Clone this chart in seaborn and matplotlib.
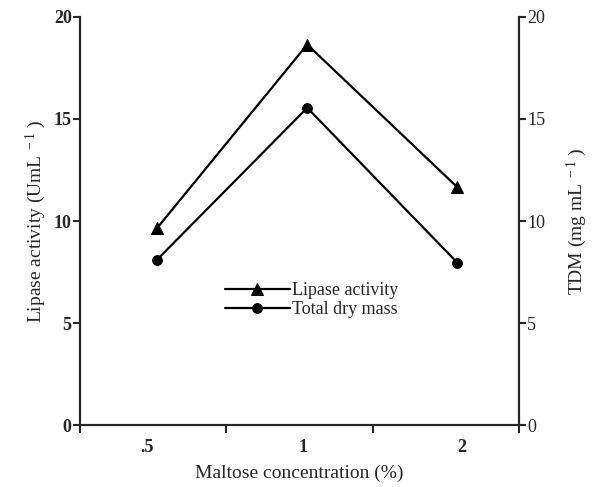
import matplotlib
matplotlib.use("Agg")
import matplotlib.pyplot as plt
import seaborn as sns
import pandas as pd

concentrations = [".5", "1", "2"]
lipase_activity = [9.65, 18.65, 11.65]
total_dry_mass = [8.1, 15.55, 7.95]

sns.set_style("ticks")
plt.rcParams['font.family'] = ['Liberation Serif', 'DejaVu Serif']
plt.rcParams['mathtext.fontset'] = 'custom'
plt.rcParams['mathtext.rm'] = 'Liberation Serif'
plt.rcParams['mathtext.it'] = 'Liberation Serif'

pos = list(range(len(concentrations)))
df = pd.DataFrame({"pos": pos, "lipase": lipase_activity, "tdm": total_dry_mass})

fig = plt.figure(figsize=(5.98, 4.87), dpi=100)
ax = fig.add_axes([80/598, 1-425/487, (519-80)/598, (425-17)/487])
ax2 = ax.twinx()

sns.lineplot(data=df, x="pos", y="lipase", ax=ax, color="black", marker="^",
             markersize=8, linewidth=1.6, markeredgecolor="black", label="Lipase activity", legend=False)
sns.lineplot(data=df, x="pos", y="tdm", ax=ax2, color="black", marker="o",
             markersize=7, linewidth=1.6, markeredgecolor="black", label="Total dry mass", legend=False)

xl = (-0.513, 2.41)
for a in (ax, ax2):
    a.set_xlim(*xl)
    a.set_ylim(0, 20)
    a.set_yticks([0, 5, 10, 15, 20])

# x ticks: labels at data positions, tick marks at bin edges
ax.set_xticks([-0.07, 0.97, 2.03])
ax.set_xticklabels(concentrations)
ax.tick_params(axis="x", length=0, pad=10, labelsize=13)
ax.set_xticks([-0.513, 0.46, 1.44, 2.41], minor=True)
ax.tick_params(axis="x", which="minor", length=6, width=1.5, direction="out")

ax.tick_params(axis="y", length=5, width=1.5, labelsize=13, pad=1)
ax2.tick_params(axis="y", length=5, width=1.5, labelsize=13, pad=1)
for lbl in ax.get_yticklabels() + ax.get_xticklabels():
    lbl.set_fontweight("bold")

for s in ["top"]:
    ax.spines[s].set_visible(False)
    ax2.spines[s].set_visible(False)
for a in (ax, ax2):
    for s in ["left", "right", "bottom"]:
        a.spines[s].set_linewidth(1.5)

ax.set_xlabel("Maltose concentration (%)", fontsize=14, labelpad=6)
ax.set_ylabel("Lipase activity (UmL$^{\\,\\,-1}$ )", fontsize=14, labelpad=4)
ax2.set_ylabel("TDM (mg mL$^{\\,\\,-1}$ )", fontsize=14, labelpad=14)

h1, l1 = ax.get_legend_handles_labels()
h2, l2 = ax2.get_legend_handles_labels()
leg = ax2.legend(h1 + h2, l1 + l2, loc="upper left", bbox_to_anchor=(0.33, 0.35),
                 frameon=False, fontsize=13, handlelength=3.6, handletextpad=0.1,
                 borderpad=0, labelspacing=0.1, borderaxespad=0)

fig.savefig("out.png", dpi=100)
